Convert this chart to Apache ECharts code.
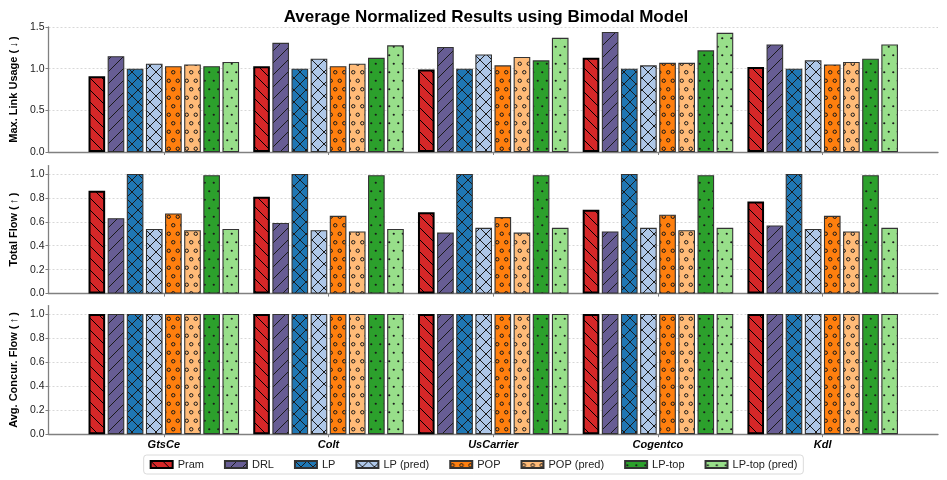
<!DOCTYPE html>
<html>
<head>
<meta charset="utf-8">
<script src="https://cdn.jsdelivr.net/npm/echarts@6/dist/echarts.min.js"></script>
<style>
  html, body { margin: 0; padding: 0; background: #fff; }
  #chart { width: 947px; height: 480px; }
</style>
</head>
<body>
<div id="chart"></div>
<script>
// ---------- data ----------
const categories = ['GtsCe', 'Colt', 'UsCarrier', 'Cogentco', 'Kdl'];
const methods = ['Pram', 'DRL', 'LP', 'LP (pred)', 'POP', 'POP (pred)', 'LP-top', 'LP-top (pred)'];
const chartTitle = 'Average Normalized Results using Bimodal Model';
const panelNames = ['Max. Link Usage (\u2009\u2193\u2009)', 'Total Flow (\u2009\u2191\u2009)', 'Avg. Concur. Flow (\u2009\u2191\u2009)'];

// rows follow the order of `methods`, columns follow `categories`
const maxLinkUsage = [
  [0.91, 1.03, 0.99, 1.13, 1.02],
  [1.15, 1.31, 1.26, 1.44, 1.29],
  [1.00, 1.00, 1.00, 1.00, 1.00],
  [1.06, 1.12, 1.17, 1.04, 1.10],
  [1.03, 1.03, 1.04, 1.07, 1.05],
  [1.05, 1.06, 1.14, 1.07, 1.08],
  [1.03, 1.13, 1.10, 1.22, 1.12],
  [1.08, 1.28, 1.37, 1.43, 1.29]
];
const totalFlow = [
  [0.86, 0.81, 0.68, 0.70, 0.77],
  [0.63, 0.59, 0.51, 0.52, 0.57],
  [1.00, 1.00, 1.00, 1.00, 1.00],
  [0.54, 0.53, 0.55, 0.55, 0.54],
  [0.67, 0.65, 0.64, 0.66, 0.65],
  [0.53, 0.52, 0.51, 0.53, 0.52],
  [0.99, 0.99, 0.99, 0.99, 0.99],
  [0.54, 0.54, 0.55, 0.55, 0.55]
];
const avgConcurFlow = [
  [1.00, 1.00, 1.00, 1.00, 1.00],
  [1.00, 1.00, 1.00, 1.00, 1.00],
  [1.00, 1.00, 1.00, 1.00, 1.00],
  [1.00, 1.00, 1.00, 1.00, 1.00],
  [1.00, 1.00, 1.00, 1.00, 1.00],
  [1.00, 1.00, 1.00, 1.00, 1.00],
  [1.00, 1.00, 1.00, 1.00, 1.00],
  [1.00, 1.00, 1.00, 1.00, 1.00]
];
const yTicks12 = [0.0, 0.5, 1.0, 1.5];
const yTicks01 = [0.0, 0.2, 0.4, 0.6, 0.8, 1.0];

// ---------- styles ----------
const fills = ['#d62728', '#675d94', '#1f77b4', '#aec7e8', '#ff7f0e', '#ffbb78', '#2ca02c', '#98df8a'];
const hatches = ['back', 'fwd', 'cross', 'cross', 'circles', 'circles', 'dots', 'dots'];
const FONT = '"Liberation Sans", Arial, sans-serif';

function makeTile(bg, kind, fg) {
  const c = document.createElement('canvas');
  let w = 12, h = 12;
  if (kind === 'circles' || kind === 'dots') { w = 9; h = 17; }
  c.width = w; c.height = h;
  const ctx = c.getContext('2d');
  ctx.fillStyle = bg;
  ctx.fillRect(0, 0, w, h);
  ctx.strokeStyle = fg;
  ctx.fillStyle = fg;
  ctx.lineWidth = 1;
  if (kind === 'back' || kind === 'cross') {
    for (let k = -1; k <= 1; k++) {
      ctx.beginPath(); ctx.moveTo(k * w, 0); ctx.lineTo(k * w + w, h); ctx.stroke();
    }
  }
  if (kind === 'fwd' || kind === 'cross') {
    for (let k = -1; k <= 1; k++) {
      ctx.beginPath(); ctx.moveTo(k * w, h); ctx.lineTo(k * w + w, 0); ctx.stroke();
    }
  }
  if (kind === 'circles' || kind === 'dots') {
    const pts = [[w * 0.25, h * 0.25], [w * 0.75, h * 0.75]];
    pts.forEach(p => {
      ctx.beginPath();
      if (kind === 'circles') {
        ctx.arc(p[0], p[1], 1.7, 0, Math.PI * 2);
        ctx.stroke();
      } else {
        ctx.arc(p[0], p[1], 1.1, 0, Math.PI * 2);
        ctx.fill();
      }
    });
  }
  return c;
}

const patterns = fills.map((f, i) => ({ image: makeTile(f, hatches[i], i === 0 ? '#000' : '#1a1a1a'), repeat: 'repeat' }));

// ---------- layout ----------
const panels = [
  { data: maxLinkUsage, max: 1.5, ticks: yTicks12, top: 27, height: 125 },
  { data: totalFlow, max: 1.07, ticks: yTicks01, top: 165.6, height: 128 },
  { data: avgConcurFlow, max: 1.07, ticks: yTicks01, top: 305.6, height: 128.6 }
];
const catIdx = categories.map((c, i) => i);
const axisGray = '#808080';

const grids = panels.map(p => ({ left: 44, right: 9, top: p.top, height: p.height }));
const xAxes = panels.map((p, i) => ({
  type: 'value', gridIndex: i, min: -0.7, max: 4.7,
  axisLine: { show: true, onZero: false, lineStyle: { color: axisGray, width: 1.3 } },
  axisTick: { show: true, customValues: catIdx, length: 3, lineStyle: { color: axisGray, width: 1 } },
  axisLabel: {
    show: i === 2, customValues: catIdx, margin: 5,
    formatter: v => categories[Math.round(v)] || '',
    fontFamily: FONT, fontSize: 11, fontWeight: 'bold', fontStyle: 'italic', color: '#000'
  },
  splitLine: { show: false }
}));
const yAxes = panels.map((p, i) => ({
  type: 'value', gridIndex: i, min: 0, max: p.max,
  name: panelNames[i], nameLocation: 'middle', nameGap: 23,
  nameTextStyle: { fontFamily: FONT, fontSize: 11, fontWeight: 'bold', color: '#000' },
  axisLine: { show: true, onZero: false, lineStyle: { color: axisGray, width: 1.3 } },
  axisTick: { show: true, customValues: p.ticks, length: 3, lineStyle: { color: axisGray } },
  axisLabel: { customValues: p.ticks, margin: 4, fontFamily: FONT, fontSize: 10.5, color: '#222', formatter: v => v.toFixed(1) },
  splitLine: { show: true, lineStyle: { color: '#cfcfcf', type: [2, 2], width: 0.8 } }
}));

const series = [];
panels.forEach((p, pi) => {
  methods.forEach((m, mi) => {
    series.push({
      type: 'bar', name: m, xAxisIndex: pi, yAxisIndex: pi,
      barWidth: '10.1%', barGap: '15%',
      data: p.data[mi].map((v, ci) => [catIdx[ci], v]),
      itemStyle: {
        color: patterns[mi],
        borderColor: mi === 0 ? '#000' : '#333',
        borderWidth: mi === 0 ? 2 : 1.1
      },
      emphasis: { disabled: true },
      animation: false
    });
  });
});

const chart = echarts.init(document.getElementById('chart'), null, { renderer: 'canvas' });
chart.setOption({
  animation: false,
  backgroundColor: '#fff',
  graphic: [{
    type: 'text', x: 486, y: 17,
    style: { text: chartTitle, font: 'bold 17px ' + FONT, textAlign: 'center', textVerticalAlign: 'middle', fill: '#000' }
  }],
  grid: grids,
  xAxis: xAxes,
  yAxis: yAxes,
  legend: {
    data: methods, left: 'center', top: 455,
    itemWidth: 22, itemHeight: 7, itemGap: 20,
    padding: [4, 6], borderColor: '#d0d0d0', borderWidth: 0.8, borderRadius: 3,
    textStyle: { fontFamily: FONT, fontSize: 11, color: '#222' },
    icon: 'rect'
  },
  series: series
});
</script>
</body>
</html>
